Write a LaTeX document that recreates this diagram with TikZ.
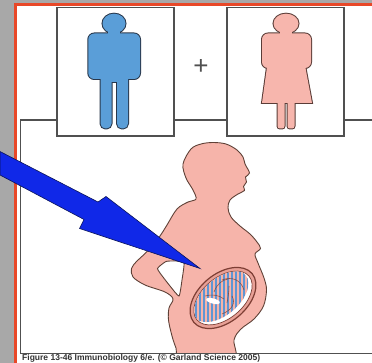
\documentclass[tikz,border=0pt]{standalone}
\usepackage{fontspec}
\setmainfont{Liberation Sans}
\definecolor{stripgray}{RGB}{168,168,168}
\definecolor{redline}{RGB}{232,72,40}
\definecolor{framegray}{RGB}{80,80,80}
\definecolor{maleblue}{RGB}{90,158,216}
\definecolor{maleline}{RGB}{40,55,75}
\definecolor{femalepink}{RGB}{247,182,173}
\definecolor{femaleline}{RGB}{90,60,55}
\definecolor{womanpink}{RGB}{246,180,170}
\definecolor{womanline}{RGB}{95,65,55}
\definecolor{arrowblue}{RGB}{16,40,232}
\definecolor{arrowline}{RGB}{10,20,90}
\definecolor{rimpink}{RGB}{232,160,150}
\definecolor{rimline}{RGB}{125,62,52}
\definecolor{stripeblue}{RGB}{95,150,212}
\definecolor{captiongray}{RGB}{50,50,50}

% figure of a man, built from parts; #1 = style applied to every part
\newcommand\manparts[1]{%
  \path[#1] (114,23.5) ellipse [x radius=11.5, y radius=9.8];
  \path[#1] (108,28) rectangle (120,37);
  \path[#1, rounded corners=6pt] (88.3,33.5) rectangle (140,79);
  \path[#1, rounded corners=5pt] (100.5,70) rectangle (111.5,128.5);
  \path[#1, rounded corners=5pt] (117,70) rectangle (128,128.5);
  \path[#1] (100.5,70) rectangle (128,82);
}
% figure of a woman, built the same way
\newcommand\womanparts[1]{%
  \path[#1] (286,23.5) ellipse [x radius=12.5, y radius=9.8];
  \path[#1] (280,28) rectangle (292,37);
  \path[#1, rounded corners=6pt] (262,33.5) rectangle (311,68);
  \path[#1] (268,60) -- (304,60) -- (312,103) -- (262,103) -- cycle;
  \path[#1, rounded corners=2.5pt] (277.5,98) rectangle (284.5,128.5);
  \path[#1, rounded corners=2.5pt] (287.5,98) rectangle (294.5,128.5);
}

\begin{document}
\begin{tikzpicture}[x=1pt, y=-1pt,
  frameline/.style={draw=framegray, line width=1.3pt},
  panel/.style={frameline, fill=white},
  silhouette/.style={fill=womanpink, draw=womanline, line width=0.9pt},
  fetusline/.style={draw=rimline, line width=0.6pt, opacity=0.8}]

\useasboundingbox (0,0) rectangle (372,363);
\fill[white] (0,0) rectangle (372,363);

% page edge: grey margins and red border
\fill[stripgray] (0,0) rectangle (13.5,363);
\fill[stripgray] (0,0) rectangle (372,3.3);
\fill[redline] (13.5,3.3) rectangle (16.7,363);
\fill[redline] (13.5,3.3) rectangle (372,5.8);

% large lower panel
\draw[frameline] (380,120) -- (20.5,120) -- (20.5,353.5) -- (380,353.5);

% pregnant woman, clipped to the lower panel
\begin{scope}
  \clip (21.2,120.7) rectangle (372,352.8);
  \path[silhouette] plot[smooth cycle, tension=0.55] coordinates {
    (213,142.5) (226,144) (237,150) (243,157) (245,164) (249.5,173)
    (245.5,177) (246.5,182) (243.5,186.5) (244.5,190.5) (238,194)
    (230,200) (228,208) (231,217) (240,226) (250,234) (257,242)
    (260.5,248.5) (255,254) (258,263) (264,278) (266.5,290) (263.5,306)
    (254,319) (241,329) (234,340) (233,362) (182,362) (176,348)
    (172,336) (168.5,320) (169,308) (173,299) (165,292) (145,285)
    (133,277) (131.5,268.5) (136.5,261.5) (143.5,255) (152,246)
    (160,236) (167,225) (177,209) (188,202) (196,199) (193,190)
    (186,178) (183,164) (191,149) (201,144)};
  % gap between the arm and the back
  \path[fill=white, draw=womanline, line width=0.9pt] plot[smooth cycle, tension=0.3] coordinates {
    (157.5,268.5) (166,261.5) (176,261) (184,263) (182,280) (179,296)
    (170,286) (163,277)};
  % uterus with the striped fetus inside
  \begin{scope}[rotate around={40:(223,298)}]
    \path[fill=rimpink, draw=rimline, line width=1.2pt]
      (223,298) ellipse [x radius=38, y radius=24];
    \path[fill=white, draw=rimline, line width=0.7pt]
      (223,298) ellipse [x radius=34, y radius=20.5];
    \clip (223,298) ellipse [x radius=33.6, y radius=20.1];
    \clip (222,295) ellipse [x radius=33, y radius=19];
    \fill[womanpink] (150,240) rectangle (300,360);
    \begin{scope}[rotate around={-40:(223,298)}]
      \foreach \sx in {180,184,...,268}
        \draw[stripeblue, line width=1.5pt] (\sx,250) -- (\sx,345);
      \fill[white, rotate around={-15:(213,301)}] (213,301) ellipse [x radius=7, y radius=2.6];
      \draw[fetusline] (214,292) .. controls (217,284) and (222,280) .. (228,279);
      \draw[fetusline] (222,280) .. controls (232,276) and (241,280) .. (244,290);
      \draw[fetusline] (229,286) .. controls (229,292) and (228,298) .. (227,303);
      \draw[fetusline] (232,296) .. controls (236,303) and (232,310) .. (222,314);
      \draw[fetusline] (205,296) .. controls (212,294) and (219,295) .. (224,299);
    \end{scope}
  \end{scope}
\end{scope}
\draw[frameline] (20.5,353.5) -- (380,353.5);

% upper panels with the two parents
\draw[panel] (57,7.3) rectangle (174,136);
\draw[panel] (227,7.3) rectangle (344,136);

\manparts{draw=maleline, line width=2pt}
\manparts{fill=maleblue}
\womanparts{draw=femaleline, line width=2pt}
\womanparts{fill=femalepink}

\node[font=\fontsize{26}{26}\selectfont, text=framegray, inner sep=0pt] (plus) at (201,67) {+};

% blue arrow pointing at the fetus
\path[fill=arrowblue, draw=arrowline, line width=0.6pt, line join=miter]
  (0,151.5) -- (98,202) -- (106,196.5) -- (200,268.5) -- (79.5,228.5)
  -- (84,219.5) -- (0,175) -- cycle;

\node[anchor=south west, inner sep=0pt, text=captiongray] (caption) at (22,362.6)
  {\resizebox{238pt}{!}{\bfseries Figure 13-46 Immunobiology 6/e. (© Garland Science 2005)}};
\end{tikzpicture}
\end{document}
